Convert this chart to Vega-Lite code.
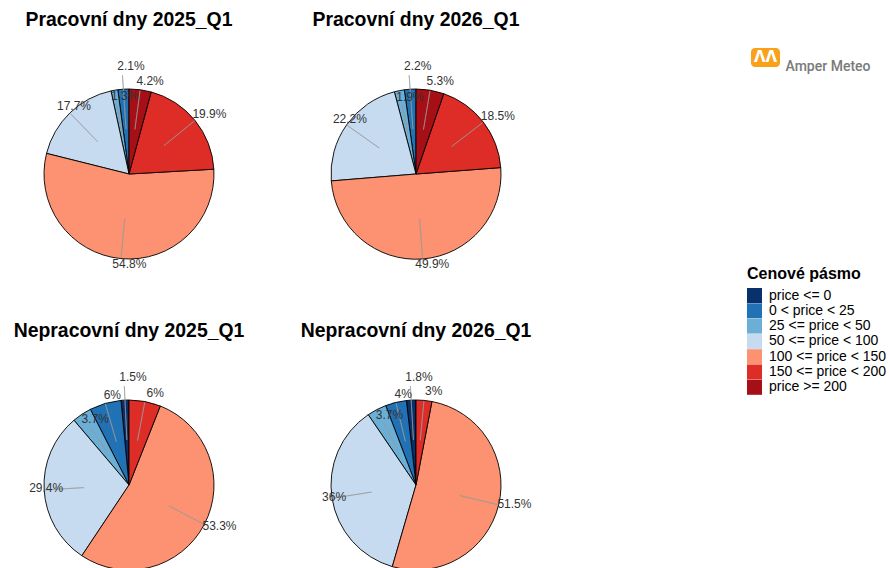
{
  "$schema": "https://vega.github.io/schema/vega-lite/v6.json",
  "padding": {"top": 9, "left": 0, "right": 0, "bottom": 0},
  "background": "white",
  "config": {"view": {"stroke": null}, "font": "Liberation Sans"},
  "spacing": 206,
  "hconcat": [
    {
      "data": {
        "values": [
          {"panel": "Pracovní dny 2025_Q1", "band": "0 < price < 25", "id": 2, "share": 0.021},
          {"panel": "Pracovní dny 2025_Q1", "band": "25 <= price < 50", "id": 3, "share": 0.013},
          {"panel": "Pracovní dny 2025_Q1", "band": "50 <= price < 100", "id": 4, "share": 0.177},
          {"panel": "Pracovní dny 2025_Q1", "band": "100 <= price < 150", "id": 5, "share": 0.548},
          {"panel": "Pracovní dny 2025_Q1", "band": "150 <= price < 200", "id": 6, "share": 0.199},
          {"panel": "Pracovní dny 2025_Q1", "band": "price >= 200", "id": 7, "share": 0.042},
          {"panel": "Pracovní dny 2026_Q1", "band": "0 < price < 25", "id": 2, "share": 0.022},
          {"panel": "Pracovní dny 2026_Q1", "band": "25 <= price < 50", "id": 3, "share": 0.019},
          {"panel": "Pracovní dny 2026_Q1", "band": "50 <= price < 100", "id": 4, "share": 0.222},
          {"panel": "Pracovní dny 2026_Q1", "band": "100 <= price < 150", "id": 5, "share": 0.499},
          {"panel": "Pracovní dny 2026_Q1", "band": "150 <= price < 200", "id": 6, "share": 0.185},
          {"panel": "Pracovní dny 2026_Q1", "band": "price >= 200", "id": 7, "share": 0.053},
          {"panel": "Nepracovní dny 2025_Q1", "band": "price <= 0", "id": 1, "share": 0.015},
          {"panel": "Nepracovní dny 2025_Q1", "band": "0 < price < 25", "id": 2, "share": 0.06},
          {"panel": "Nepracovní dny 2025_Q1", "band": "25 <= price < 50", "id": 3, "share": 0.037},
          {"panel": "Nepracovní dny 2025_Q1", "band": "50 <= price < 100", "id": 4, "share": 0.294},
          {"panel": "Nepracovní dny 2025_Q1", "band": "100 <= price < 150", "id": 5, "share": 0.533},
          {"panel": "Nepracovní dny 2025_Q1", "band": "150 <= price < 200", "id": 6, "share": 0.06},
          {"panel": "Nepracovní dny 2026_Q1", "band": "price <= 0", "id": 1, "share": 0.018},
          {"panel": "Nepracovní dny 2026_Q1", "band": "0 < price < 25", "id": 2, "share": 0.04},
          {"panel": "Nepracovní dny 2026_Q1", "band": "25 <= price < 50", "id": 3, "share": 0.037},
          {"panel": "Nepracovní dny 2026_Q1", "band": "50 <= price < 100", "id": 4, "share": 0.36},
          {"panel": "Nepracovní dny 2026_Q1", "band": "100 <= price < 150", "id": 5, "share": 0.515},
          {"panel": "Nepracovní dny 2026_Q1", "band": "150 <= price < 200", "id": 6, "share": 0.03}
        ]
      },
      "facet": {
        "field": "panel",
        "type": "nominal",
        "sort": ["Pracovní dny 2025_Q1", "Pracovní dny 2026_Q1", "Nepracovní dny 2025_Q1", "Nepracovní dny 2026_Q1"],
        "header": {"title": null, "labelFontSize": 19.4, "labelFontWeight": "bold", "labelFont": "Liberation Sans", "labelColor": "black", "labelPadding": 10, "labelOrient": "top"}
      },
      "columns": 2,
      "spacing": {"row": 12, "column": 29},
      "spec": {
        "width": 258,
        "height": 268,
        "layer": [
          {
            "mark": {"type": "arc", "outerRadius": 85, "stroke": "black", "strokeWidth": 0.9},
            "encoding": {
              "theta": {"field": "share", "type": "quantitative", "stack": "normalize", "scale": {"domain": [0, 1]}},
              "order": {"field": "id", "sort": "descending"},
              "color": {
                "field": "band",
                "type": "nominal",
                "scale": {
                  "domain": ["price <= 0", "0 < price < 25", "25 <= price < 50", "50 <= price < 100", "100 <= price < 150", "150 <= price < 200", "price >= 200"],
                  "range": ["#08306b", "#2171b5", "#6baed6", "#c6dbef", "#fc9272", "#de2d26", "#a50f15"]
                },
                "legend": {
                  "title": "Cenové pásmo",
                  "orient": "none",
                  "legendX": 747,
                  "legendY": 226,
                  "titleFontSize": 16,
                  "titleFontWeight": "bold",
                  "titleColor": "black",
                  "titlePadding": 6,
                  "labelFontSize": 14,
                  "labelColor": "black",
                  "labelOffset": 7,
                  "symbolType": "square",
                  "symbolSize": 225,
                  "symbolStrokeWidth": 0,
                  "symbolOpacity": 1,
                  "rowPadding": 0.3
                }
              }
            }
          },
          {
            "transform": [
              {"stack": "share", "groupby": ["panel"], "sort": [{"field": "id", "order": "descending"}], "offset": "normalize", "as": ["s0", "s1"]},
              {"fold": ["s0", "s1"], "as": ["edge", "angleAt"]},
              {"aggregate": [{"op": "mean", "field": "angleAt", "as": "mid"}], "groupby": ["panel", "id", "share"]},
              {"filter": "!(datum.share < 0.025 && datum.id <= 2) && datum.id != 3"}
            ],
            "mark": {"type": "arc", "outerRadius": 84, "innerRadius": 45, "filled": false, "color": "#999999", "strokeWidth": 0.6},
            "encoding": {
              "theta": {"field": "mid", "type": "quantitative", "stack": null, "scale": {"domain": [0, 1]}},
              "theta2": {"field": "mid"}
            }
          },
          {
            "transform": [
              {"stack": "share", "groupby": ["panel"], "sort": [{"field": "id", "order": "descending"}], "offset": "normalize", "as": ["s0", "s1"]},
              {"fold": ["s0", "s1"], "as": ["edge", "angleAt"]},
              {"aggregate": [{"op": "mean", "field": "angleAt", "as": "mid"}], "groupby": ["panel", "id", "share"]},
              {"filter": "datum.share < 0.025 && datum.id <= 2"}
            ],
            "mark": {"type": "arc", "outerRadius": 99, "innerRadius": 45, "filled": false, "color": "#999999", "strokeWidth": 0.6},
            "encoding": {
              "theta": {"field": "mid", "type": "quantitative", "stack": null, "scale": {"domain": [0, 1]}},
              "theta2": {"field": "mid"}
            }
          },
          {
            "transform": [
              {"stack": "share", "groupby": ["panel"], "sort": [{"field": "id", "order": "descending"}], "offset": "normalize", "as": ["s0", "s1"]},
              {"fold": ["s0", "s1"], "as": ["edge", "angleAt"]},
              {"aggregate": [{"op": "mean", "field": "angleAt", "as": "mid"}], "groupby": ["panel", "id", "share"]},
              {"filter": "datum.id == 3"}
            ],
            "mark": {"type": "arc", "outerRadius": 70, "innerRadius": 40, "filled": false, "color": "#999999", "strokeWidth": 0.6},
            "encoding": {
              "theta": {"field": "mid", "type": "quantitative", "stack": null, "scale": {"domain": [0, 1]}},
              "theta2": {"field": "mid"}
            }
          },
          {
            "mark": {"type": "text", "radius": 92, "dx": 9, "dy": -2, "fontSize": 12, "font": "Liberation Sans", "color": "#333333", "align": "center", "baseline": "middle"},
            "encoding": {
              "theta": {"field": "share", "type": "quantitative", "stack": "normalize", "scale": {"domain": [0, 1]}},
              "order": {"field": "id", "sort": "descending"},
              "text": {"condition": {"test": "!(datum.share < 0.025 && datum.id <= 2) && datum.id != 3", "field": "share", "type": "quantitative", "format": ".1~%"}, "value": ""}
            }
          },
          {
            "mark": {"type": "text", "radius": 106, "dx": 9, "dy": -2, "fontSize": 12, "font": "Liberation Sans", "color": "#333333", "align": "center", "baseline": "middle"},
            "encoding": {
              "theta": {"field": "share", "type": "quantitative", "stack": "normalize", "scale": {"domain": [0, 1]}},
              "order": {"field": "id", "sort": "descending"},
              "text": {"condition": {"test": "datum.share < 0.025 && datum.id <= 2", "field": "share", "type": "quantitative", "format": ".1~%"}, "value": ""}
            }
          },
          {
            "mark": {"type": "text", "radius": 77, "dx": 9, "dy": -2, "fontSize": 12, "font": "Liberation Sans", "color": "#333333", "align": "center", "baseline": "middle"},
            "encoding": {
              "theta": {"field": "share", "type": "quantitative", "stack": "normalize", "scale": {"domain": [0, 1]}},
              "order": {"field": "id", "sort": "descending"},
              "text": {"condition": {"test": "datum.id == 3", "field": "share", "type": "quantitative", "format": ".1~%"}, "value": ""}
            }
          }
        ]
      }
    },
    {
      "spacing": 5,
      "data": {"values": [{"brand": "Amper Meteo"}]},
      "hconcat": [
        {
          "width": 29,
          "height": 27,
          "encoding": {
            "y": {"field": "brand", "type": "nominal", "axis": null, "scale": {"paddingInner": 0, "paddingOuter": 0.2105, "align": 1}}
          },
          "layer": [
            {"mark": {"type": "rect", "color": "#f9a11b", "cornerRadius": 4}},
            {"mark": {"type": "text", "text": "ΛΛ", "color": "white", "fontSize": 15, "fontWeight": "bold", "font": "DejaVu Sans"}}
          ]
        },
        {
          "width": 86,
          "height": 27,
          "encoding": {
            "y": {"field": "brand", "type": "nominal", "axis": null, "scale": {"paddingInner": 0, "paddingOuter": 0.2105, "align": 1}},
            "text": {"field": "brand"}
          },
          "mark": {"type": "text", "color": "#7a7a7a", "fontSize": 14, "fontWeight": 500, "font": "Roboto"}
        }
      ]
    }
  ]
}
